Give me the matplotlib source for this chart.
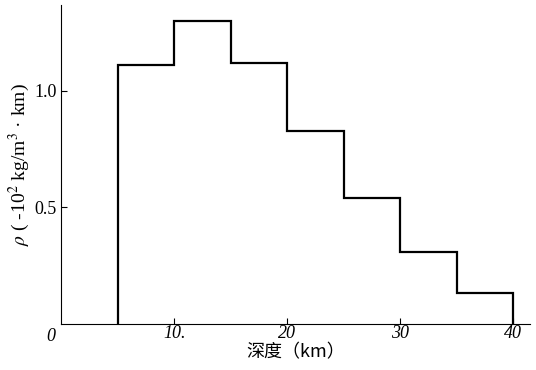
import matplotlib.pyplot as plt

# depth bin edges (km) and density values
edges = [5, 10, 15, 20, 25, 30, 35, 40]
rho = [1.11, 1.30, 1.12, 0.83, 0.54, 0.31, 0.13]
xticks = [10, 20, 30, 40]
xlabels = ['10.', '20', '30', '40']
yticks = [0.5, 1.0]
ylabels = ['0.5', '1.0']

plt.rcParams['font.family'] = ['Liberation Serif', 'Noto Sans CJK SC']
plt.rcParams['mathtext.fontset'] = 'stix'

fig = plt.figure(figsize=(5.36, 3.70), dpi=100)
ax = fig.add_axes([0.114, 0.125, 0.875, 0.862])

ax.stairs(rho, edges, baseline=0, color='black', linewidth=1.6)

ax.set_xlim(0, 41.5)
ax.set_ylim(0, 1.37)
ax.spines['top'].set_visible(False)
ax.spines['right'].set_visible(False)
ax.spines['left'].set_linewidth(0.8)
ax.spines['bottom'].set_linewidth(0.8)

ax.set_xticks(xticks)
ax.set_xticklabels(xlabels, fontsize=13, style='italic')
ax.set_yticks(yticks)
ax.set_yticklabels(ylabels, fontsize=13)
ax.tick_params(axis='x', direction='in', length=4, pad=1)
ax.tick_params(axis='y', direction='in', length=4, pad=3)

ax.text(-0.5, -0.02, '0', fontsize=13, style='italic', ha='right', va='top')

ax.set_xlabel('深度（km）', fontsize=13, family=['Noto Sans CJK SC'], labelpad=1)
ax.set_ylabel(r'$\rho$ ( -10$^2$ kg/m$^3$ · km)', fontsize=14, labelpad=2)

fig.savefig('out.png', dpi=100)
